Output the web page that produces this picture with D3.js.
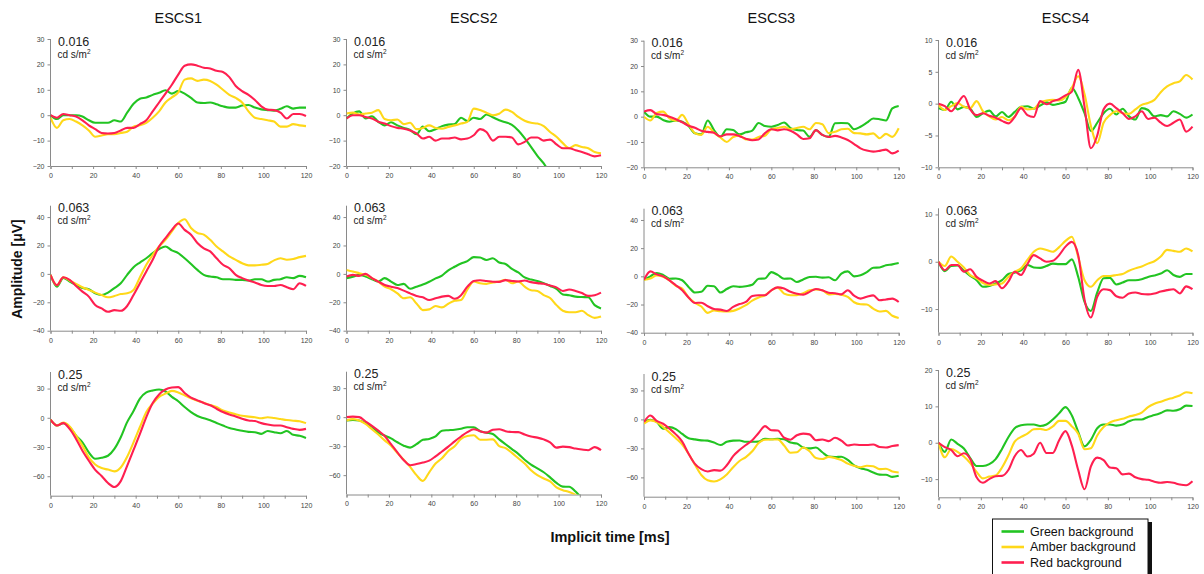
<!DOCTYPE html>
<html><head><meta charset="utf-8">
<script src="https://cdn.jsdelivr.net/npm/d3@7"></script>
<style>body{margin:0;background:#fff}svg{display:block}</style>
</head><body>
<svg id="chart" width="1204" height="574"></svg>
<script>
// Implicit time samples (ms), shared by every trace
const times = [0,3,6,9,12,15,18,21,24,27,30,33,36,39,42,45,48,51,54,57,60,63,66,69,72,75,78,81,84,87,90,93,96,99,102,105,108,111,114,117,120];

const columnTitles = ["ESCS1","ESCS2","ESCS3","ESCS4"];
const intensities = ["0.016","0.063","0.25"];
const seriesNames = ["Green background","Amber background","Red background"];
const seriesColors = ["#22c422","#ffd819","#ff1f50"];
const xTickValues = [0,20,40,60,80,100,120];

// Amplitude axis per row / column
const yDomains = [
  [[-20,30],[-20,30],[-20,30],[-10,10]],
  [[-40,48],[-40,48],[-40,48],[-15,11.3]],
  [[-80,47],[-80,47],[-80,47],[-15,20]]
];
const yTickSets = [
  [[-20,-10,0,10,20,30],[-20,-10,0,10,20,30],[-20,-10,0,10,20,30],[-10,-5,0,5,10]],
  [[-40,-20,0,20,40],[-40,-20,0,20,40],[-40,-20,0,20,40],[-10,0,10]],
  [[-60,-30,0,30],[-60,-30,0,30],[-60,-30,0,30],[-10,0,10,20]]
];

// ---- 0.016 cd s/m2 ----
const green_escs1_016 = [0,-1.5,0,0,0,-0.5,-2,-3,-3,-3,-2,-2.5,1,4.5,6.5,7,8,8.8,9.8,8.5,9.5,8.5,6.8,5,4.8,5,4.3,3.5,3,3,3.8,4,3,2.3,2,1.8,2.5,3.5,2.6,3,3];
const amber_escs1_016 = [-1,-5,-2,-1.5,-2.5,-4,-6,-8.5,-8,-7.5,-7.5,-7,-6.5,-4.5,-4,-3,-1,1.5,5,7,9,14,14.5,13.5,14,13.5,12,10,8,6.8,5,1.5,-1,-1.5,-2,-2.5,-4.5,-4.5,-3.5,-4,-4.3];
const red_escs1_016 = [0,-1,0.5,0,-0.5,-2,-4,-5.5,-7,-7.2,-7,-6,-5,-5,-3.5,-2,1.5,5,8.5,12,16,19.5,20,19.5,18.7,18.4,17.5,17,15,11.5,9.5,8,6,3.5,2.2,2,1,-1.3,0.5,0.5,-0.3];

const green_escs2_016 = [-1.3,0.7,1.5,-1.3,-0.4,-2.6,-4,-2.8,-4,-5,-5.8,-7.5,-4.5,-6.3,-5.5,-4.3,-3.7,-3.5,-1,-2.3,-1,-1.5,0.3,-0.8,-2,-2.8,-3.8,-6,-9,-12.5,-16,-19,-23,null,null,null,null,null,null,null,null];
const amber_escs2_016 = [0.7,1,0.3,0.7,1,2,-1.5,-2,-1.7,-3.5,-3,-5.5,-5,-4,-5,-5.3,-4.6,-4,-3.3,-2.6,2.6,2,1,0,0.6,2.2,1.3,-0.7,-2.2,-3,-3.3,-4.3,-6.6,-8.5,-11,-13,-11.8,-12.5,-13,-14.5,-15];
const red_escs2_016 = [-1.3,0,0,-0.7,-1.3,-2.6,-3.3,-4.3,-5,-5.3,-6,-7.2,-9.2,-8.5,-10,-9.2,-9.2,-8.8,-9.5,-9.2,-7.9,-5.5,-6.6,-10,-8.5,-8.5,-8.8,-11.5,-10.5,-8.8,-8.8,-10,-9.6,-11.5,-13,-13,-13.8,-14.5,-15.4,-16.2,-15.8];

const green_escs3_016 = [2,0,0,-1.3,-2,-1.5,-2,-3.7,-6.6,-7,-1.5,-5.3,-8,-5,-5.3,-7,-6.2,-5.5,-2.5,-3.7,-4,-3.3,-2.3,-4.5,-5.3,-5.5,-8,-5.3,-7.2,-8,-2.6,-2.5,-2.6,-5,-4,-2.4,-0.7,-1,-1.5,3.3,4.2];
const amber_escs3_016 = [0,-1.5,1.5,2,-0.7,-1.6,0.7,-3,-6.5,-7.2,-4,-6.3,-8.2,-10,-8,-7.5,-9,-9,-8,-7.5,-5,-4.5,-4,-5,-4.5,-4,-5,-2.5,-3,-6.5,-6,-5,-4.8,-6.5,-6.6,-7,-6.6,-8.5,-6.8,-8,-4.6];
const red_escs3_016 = [2,2.6,1,0.7,0,-1,-2.2,-3.6,-4.4,-5.6,-6,-6.4,-7.8,-7,-7,-7.7,-8.7,-9.3,-9,-6.5,-5,-5.4,-5,-5.6,-7,-8.8,-8.5,-5.3,-7.2,-8,-7.6,-8.2,-9.2,-10.8,-12.5,-13.4,-13.8,-13.5,-13,-14.5,-13.4];

const green_escs4_016 = [-0.7,-1,0.3,-0.9,-0.5,-0.8,-2.1,-1.5,-1.1,-2,-1.3,-2.1,-1.3,-0.5,-0.4,-0.8,-0.3,0.2,-0.2,0,0.3,2.5,0.9,-1.5,-4.3,-3,-1.5,-0.8,-1.7,-0.8,-2,-2.5,-0.7,-1,-2,-1.8,-2,-1.2,-1.6,-2.2,-1.7];
const amber_escs4_016 = [-0.2,-1,-0.4,0.1,-0.5,-0.7,0.4,-1.2,-2,-2.5,-2.1,-2.6,-2,-0.5,-0.9,-0.8,0.2,0.5,0.6,0.5,1,2.5,4.3,1.5,-3.5,-6.2,-3,-1.8,-1.2,-1.5,-1.6,-0.9,-0.2,0.1,0.6,1.8,2.7,3.2,3.5,4.5,3.8];
const red_escs4_016 = [0,-0.4,-1.2,0,1.2,-0.9,-1.8,-1.5,-1.9,-2.2,-2.7,-3.1,-2.1,-0.7,-1.8,-2.1,0.4,-0.1,0.4,0.7,1.3,1.9,5.3,-0.5,-7,-5,-0.9,0,-0.7,-1.5,-2.4,-2,-1.2,-2.4,-2.2,-3,-3.5,-3,-2.5,-4.4,-3.6];

// ---- 0.063 cd s/m2 ----
const green_escs1_063 = [-0.7,-9,-2.8,-5.4,-7.8,-10,-10.8,-13.7,-14.9,-13.2,-10,-6.6,-0.7,4.7,8,11,14.6,17.5,19.3,16.5,14.6,11,7,2.8,-0.7,-1.9,-2.4,-3.8,-3.8,-4.2,-4.2,-4.7,-3.8,-3.8,-5.4,-4.2,-3.8,-2.4,-3,-1.4,-2.4];
const amber_escs1_063 = [-0.7,-8,-2.4,-4.7,-7,-9.4,-11.3,-13.2,-14.9,-16.5,-15.6,-14.2,-13.7,-11.3,-2.4,6.4,13.4,19.3,24,29.9,35.8,38.5,32.3,28.8,27.6,24,19.3,15.8,12.3,9.9,7.5,6,6,6.4,7,9.5,11,10,10.5,11.8,12.7];
const red_escs1_063 = [-0.7,-8,-2.4,-4.2,-8.5,-12.5,-16,-21.9,-24.3,-26.7,-25.5,-26,-22.6,-14.9,-6.6,1.7,9.9,19.3,25.2,31,35.5,31,27.6,21.7,18,15.8,11,6.4,4,-0.7,-3,-4.7,-6.1,-7.8,-8.5,-8.5,-7.8,-9.4,-10.8,-6.6,-8.5];

const green_escs2_063 = [-3,-2,-0.7,-1.9,-3.8,-5.4,-3,-5.4,-7.8,-7,-10.5,-9,-7.5,-5.5,-3.2,-1.2,2.5,5,7.3,9,11.8,11.5,9.8,11,8,7,3.5,1,-2.5,-4,-5,-6.5,-8.5,-10.5,-14.5,-15,-16,-16.3,-16.5,-22,-24.3];
const amber_escs2_063 = [2.8,1.7,0.5,-0.7,-3,-5.4,-9,-10.8,-13.7,-17.2,-16.5,-20.8,-25.5,-25,-22.6,-23.6,-21,-18.9,-18.4,-11,-5.4,-6.6,-7,-6.1,-5.4,-4.2,-6.6,-5.4,-9,-11.5,-12,-15,-17,-22,-26,-27,-27,-26,-29,-31,-30];
const red_escs2_063 = [-1.9,-0.7,-1.4,0,-3,-5.4,-7.8,-9,-10,-11.8,-13.7,-15.6,-16.5,-18.4,-17.2,-16,-15.5,-17.5,-15,-9,-5,-4.5,-5,-5.5,-5.6,-4.4,-5,-5.4,-4.7,-5.8,-6.5,-7,-8.2,-9.5,-12,-11,-12,-13.5,-15.5,-15,-13.2];

const green_escs3_063 = [-2.4,0,2.4,1,-1.7,-1.5,-2.8,-7.5,-11.5,-11,-6.7,-7,-11.5,-9,-7,-7.5,-7,-6,-1.7,-1.5,3,1,-1.7,-1.5,-4,-2.2,-0.5,-0.3,-0.9,-0.7,-2.8,2,3.5,0,0.7,3,6.1,6.3,7.8,8.5,9.4];
const amber_escs3_063 = [-2.4,-1.5,0.7,-0.3,-2.8,-6.7,-8.7,-15,-18.9,-21.4,-25.9,-24.2,-24.8,-25,-24.5,-22.8,-20.5,-17.3,-15,-13.4,-9.9,-8,-12.3,-13.4,-13.4,-12,-9.9,-9.3,-9.9,-12.8,-12.5,-13,-14.6,-18.4,-19.8,-20,-22.9,-25,-24.5,-28,-29.5];
const red_escs3_063 = [-2.4,3.5,1.4,0,-2.8,-6.3,-9.9,-15,-18.9,-18.7,-21.2,-23.2,-23.6,-24.6,-21.7,-19.7,-18.2,-14,-13.4,-13.4,-9.9,-7.8,-8.7,-11,-12.3,-13,-11,-9,-9.9,-11.6,-12,-12.8,-9.9,-13.7,-15.8,-14.5,-13.5,-17,-16.4,-15.8,-18.2];

const green_escs4_063 = [0,-2,-0.9,-0.8,-1.9,-3,-3.9,-5.3,-5.1,-4.6,-3.9,-2.6,-2.3,-1.8,-0.7,-1.2,-1.3,-0.9,-0.4,-0.5,-0.5,0.5,-3.2,-8.5,-10.4,-6.5,-3.5,-3.4,-4.8,-4.4,-3.9,-3.9,-3.7,-3.2,-2.9,-2.5,-1.8,-2.8,-3.2,-2.6,-2.6];
const amber_escs4_063 = [0,-0.9,1.1,0,-1.2,-2.8,-3.5,-4.5,-4.9,-4.8,-4.6,-3.2,-2.1,-1.4,0.4,2.1,2.8,2.5,2.1,3.1,4.4,5.3,1,-3.9,-5.3,-3.9,-3,-3,-2.8,-2.6,-1.9,-1.4,-1,-0.4,0.1,1.1,2.5,2.3,2.1,2.8,2.2];
const red_escs4_063 = [0,-1.8,-0.7,-0.7,-2.1,-1.6,-3.2,-4,-4.6,-4.1,-5.6,-4.2,-2.1,-2.8,-0.5,1.4,0.7,0,0.2,1.4,3.2,4.2,1.4,-8,-11.8,-7.4,-5.8,-6,-7.3,-7.6,-6.7,-6.5,-6.8,-6.9,-6.7,-6.3,-6,-5.8,-6.7,-5.2,-5.8];

// ---- 0.25 cd s/m2 ----
const green_escs1_25 = [-2,-8,-5.5,-9.7,-18.3,-25.2,-35.5,-42,-41,-39,-32,-20,-4.5,7,19.7,26,28,29,27,21.5,17,11,5.8,1.8,-0.5,-2.6,-5.3,-8,-10.6,-12,-13.4,-14.5,-14.8,-16.5,-13.5,-14.8,-15.9,-13.5,-17.5,-18.5,-20.7];
const amber_escs1_25 = [-2,-8,-5,-9,-18.3,-28.6,-40.7,-48,-51.6,-53.2,-55,-51,-40,-25.2,-9.5,5.9,14.5,21.4,24.8,27.6,26,23,20,17.5,15.5,13,11,7.5,5.3,3.6,2,1.2,0.5,-0.5,0.5,-0.3,-1.3,-2.3,-3,-3.5,-5.5];
const red_escs1_25 = [-2,-8,-5.5,-11.4,-21.7,-33.8,-44.1,-53.5,-59.7,-67,-71,-65,-49.3,-33,-16.6,0.7,15.2,24,29,31,31.5,25.5,20.7,17.9,15.2,12.8,9.3,5.9,3.4,1.4,-1,-2.8,-3.4,-5.5,-6.9,-7.9,-8,-9.7,-11.4,-12.4,-11.4];

const green_escs2_25 = [-3.4,-2.8,-3.5,-6,-10,-16,-19,-22,-26,-29.5,-31.5,-28,-23.5,-22.5,-20,-14,-13.5,-13,-12,-10.5,-10.5,-14.5,-16,-17.5,-23,-28,-33,-38,-44,-49,-53,-57,-62.3,-68,-71.9,-72,-77,-84,null,null,null];
const amber_escs2_25 = [-3.4,-2,-3.5,-7,-12.5,-18,-24,-29.5,-37,-44,-51.4,-60,-66,-57,-48,-42.5,-35,-30,-22.5,-19.5,-18.8,-23.3,-23.3,-23,-30,-32,-37,-42.5,-48,-55,-60,-63.5,-66.5,-72.6,-75.5,-77.5,-80.5,-86,null,null,null];
const red_escs2_25 = [0,0.5,0,-4.5,-9,-14,-19.5,-28,-36.5,-44.5,-49.7,-48.5,-47,-45,-40.5,-35.5,-30.5,-25,-20,-15.5,-12.5,-14.5,-16,-13,-12.5,-14.5,-15.4,-15.5,-18,-20,-21.2,-23,-26,-31.5,-30.5,-31,-32.5,-33.5,-34.2,-31,-34.2];

const green_escs3_25 = [-2.7,-0.3,-2.7,-9.6,-8,-10,-15,-19.5,-20.7,-21.7,-22,-24,-26.5,-23.2,-22,-21.8,-23.2,-23.2,-23,-20,-20.5,-20,-20.5,-24,-25,-29,-30,-29,-34,-38.5,-39,-38.6,-42,-47.5,-50.5,-52.2,-55,-57.2,-57.3,-59.5,-58.4];
const amber_escs3_25 = [-4.4,-1,-2.7,-7.8,-13.5,-19.5,-26,-35.5,-47,-57.5,-63,-64.2,-62,-57,-49.5,-43,-39,-33,-24.5,-21,-20.8,-20.8,-27,-34.5,-34,-29,-33,-40,-41,-38.8,-40,-42,-45.8,-48,-49.5,-48,-48.5,-51.5,-51,-54,-55];
const red_escs3_25 = [-2.7,4,-1.5,-4.5,-9.5,-15.5,-23,-35.5,-46,-51.5,-53.9,-52.5,-53,-47.5,-38,-31.7,-26.5,-21.5,-14,-7,-11.3,-11.5,-19,-21,-16.4,-14.7,-15.5,-21.5,-20.8,-22.5,-19,-22,-27,-26,-26.5,-26.5,-26,-28.5,-29,-27.5,-26.6];

const green_escs4_25 = [0,-2.5,0.9,-0.3,-1.6,-4.2,-6.4,-6.4,-5.9,-4.5,-1.7,1.5,4,4.8,5,5,4.6,5,6.4,8.1,9.8,7.5,3,-1,0.8,4,5,5,4.7,5,5.9,6.4,6.4,7.1,7.6,8.2,8.9,8.8,9.2,10.2,10.1];
const amber_escs4_25 = [0,-4,-1.7,-2.5,-3.8,-5.6,-8,-9.8,-9.3,-9,-6.8,-3.5,0.3,1.6,2.5,3.7,3.8,3.5,4.5,6,6,4.5,2.5,-1.8,-1.5,2,4.3,5.6,6.2,6.6,7.2,7.6,8.3,9.8,10.7,11.3,11.9,12.4,13,13.9,13.6];
const red_escs4_25 = [0,-1.2,-2,-3.7,-2.9,-4.5,-9.5,-11,-10,-9.2,-9.1,-7.5,-3.7,-2,-3.8,-3,0,-2.8,-2.8,0.7,3.2,-0.8,-7.5,-12.8,-6.5,-4.1,-4.8,-6.8,-7,-8.7,-8.5,-9.5,-10,-10.2,-10.7,-11,-10.8,-11,-11.5,-11.7,-10.6];

// Grid of traces: rows = intensity, columns = ESCS sample; each cell = [green, amber, red]
const traces = [
  [[green_escs1_016,amber_escs1_016,red_escs1_016],[green_escs2_016,amber_escs2_016,red_escs2_016],[green_escs3_016,amber_escs3_016,red_escs3_016],[green_escs4_016,amber_escs4_016,red_escs4_016]],
  [[green_escs1_063,amber_escs1_063,red_escs1_063],[green_escs2_063,amber_escs2_063,red_escs2_063],[green_escs3_063,amber_escs3_063,red_escs3_063],[green_escs4_063,amber_escs4_063,red_escs4_063]],
  [[green_escs1_25,amber_escs1_25,red_escs1_25],[green_escs2_25,amber_escs2_25,red_escs2_25],[green_escs3_25,amber_escs3_25,red_escs3_25],[green_escs4_25,amber_escs4_25,red_escs4_25]]
];

// ---- layout (pixels) ----
const colLeft = [50.5, 346.5, 644, 938.5];
const colRight = [306, 601, 898.7, 1192.5];
const rowPix = [ // [bottom, top] for each panel
  [[166,39],[166,39],[167.3,40.7],[167.3,40]],
  [[330.7,205.7],[330.7,205.7],[332.7,208.7],[332.7,208.3]],
  [[495.7,372],[494.5,371.7],[496.7,374],[497.3,370]]
];

const font = "'Liberation Sans', Arial, sans-serif";
const svg = d3.select("#chart").style("font-family", font);
const defs = svg.append("defs");

columnTitles.forEach((t, c) => {
  svg.append("text")
    .attr("x", (colLeft[c] + colRight[c]) / 2).attr("y", 23)
    .attr("text-anchor", "middle").attr("font-size", 14.5).attr("fill", "#111")
    .text(t);
});

for (let r = 0; r < 3; r++) {
  for (let c = 0; c < 4; c++) {
    const [yb, yt] = rowPix[r][c];
    const x = d3.scaleLinear().domain([0, 120]).range([colLeft[c], colRight[c]]);
    const y = d3.scaleLinear().domain(yDomains[r][c]).range([yb, yt]);
    const g = svg.append("g");

    // x axis: labelled every 20 ms, extra ticks every 10 ms
    const xa = g.append("g").attr("transform", `translate(0,${yb})`)
      .call(d3.axisBottom(x).tickValues(d3.range(0, 121, 10)).tickSize(3).tickPadding(4)
        .tickFormat(d => d % 20 === 0 ? d : ""));
    xa.select(".domain").attr("stroke", "#8a8a8a");
    xa.selectAll(".tick line").attr("stroke", "#8a8a8a");
    xa.selectAll("text").attr("font-size", 7).attr("fill", "#444").attr("font-family", font);

    const ya = g.append("g").attr("transform", `translate(${colLeft[c]},0)`)
      .call(d3.axisLeft(y).tickValues(yTickSets[r][c]).tickSize(3).tickPadding(3));
    ya.select(".domain").attr("stroke", "#8a8a8a").attr("d", `M-0,${yb}V${yt}`);
    ya.selectAll(".tick line").attr("stroke", "#8a8a8a");
    ya.selectAll("text").attr("font-size", 7).attr("fill", "#444").attr("font-family", font);

    const clipId = `clip-${r}-${c}`;
    defs.append("clipPath").attr("id", clipId).append("rect")
      .attr("x", colLeft[c]).attr("y", yt - 2)
      .attr("width", colRight[c] - colLeft[c] + 2).attr("height", yb - yt + 2);

    const line = d3.line()
      .defined(d => d[1] != null)
      .x(d => x(d[0])).y(d => y(d[1]))
      .curve(d3.curveMonotoneX);

    const plot = g.append("g").attr("clip-path", `url(#${clipId})`);
    traces[r][c].forEach((vals, s) => {
      plot.append("path")
        .datum(times.map((t, i) => [t, vals[i]]))
        .attr("d", line)
        .attr("fill", "none")
        .attr("stroke", seriesColors[s])
        .attr("stroke-width", 2.1)
        .attr("stroke-linejoin", "round");
    });

    // intensity label, unit line beneath it
    const lx = colLeft[c] + 7.5;
    g.append("text").attr("x", lx).attr("y", yt + 6.5)
      .attr("font-size", 12.5).attr("fill", "#222").text(intensities[r]);
    const unit = g.append("text").attr("x", lx - 0.5).attr("y", yt + 18.5)
      .attr("font-size", 10).attr("fill", "#222");
    unit.append("tspan").text("cd s/m");
    unit.append("tspan").attr("dy", -4).attr("font-size", 6.5).text("2");
  }
}

// axis titles
svg.append("text")
  .attr("transform", "translate(22,269) rotate(-90)")
  .attr("text-anchor", "middle").attr("font-size", 14).attr("font-weight", "bold")
  .attr("fill", "#111").text("Amplitude [\u03bcV]");
svg.append("text")
  .attr("x", 610).attr("y", 542)
  .attr("text-anchor", "middle").attr("font-size", 14.5).attr("font-weight", "bold")
  .attr("fill", "#111").text("Implicit time [ms]");

// legend with drop shadow
const lg = svg.append("g");
lg.append("rect").attr("x", 996).attr("y", 522).attr("width", 156).attr("height", 60).attr("fill", "#111");
lg.append("rect").attr("x", 992.5).attr("y", 519).attr("width", 155.5).attr("height", 60)
  .attr("fill", "#fff").attr("stroke", "#111").attr("stroke-width", 1);
seriesNames.forEach((name, i) => {
  const yy = 531.5 + i * 15.5;
  lg.append("line").attr("x1", 1001.5).attr("x2", 1024).attr("y1", yy).attr("y2", yy)
    .attr("stroke", seriesColors[i]).attr("stroke-width", 2.6);
  lg.append("text").attr("x", 1030).attr("y", yy + 4.3)
    .attr("font-size", 12.5).attr("fill", "#111").text(name);
});
</script>
</body></html>
